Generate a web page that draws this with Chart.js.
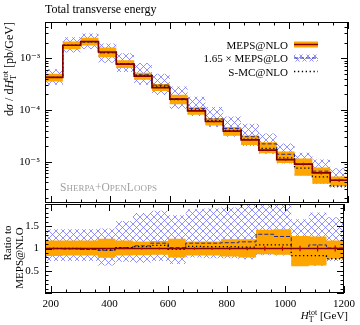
<!DOCTYPE html>
<html>
<head>
<meta charset="utf-8">
<script src="https://cdn.jsdelivr.net/npm/chart.js@4.4.0/dist/chart.umd.min.js"></script>
<style>
  body { margin: 0; background: #fff; }
  #wrap { position: relative; width: 360px; height: 325px; }
  #wrap canvas { position: absolute; left: 0; top: 0; }
</style>
</head>
<body>
<div id="wrap">
  <canvas id="mainChart" width="360" height="325"></canvas>
  <canvas id="ratioChart" width="360" height="325"></canvas>
</div>
<script>
// bin edges of H_T^tot [GeV]
const binEdges = [180, 240, 300, 360, 420, 480, 540, 600, 660, 720, 780, 840, 900, 960, 1020, 1080, 1140, 1200];
// MEPS@NLO central values [pb/GeV]
const nloValues = [4.26e-4, 1.78e-3, 2.1e-3, 1.32e-3, 7.7e-4, 4.5e-4, 2.7e-4, 1.62e-4, 9.6e-5, 6.0e-5, 3.9e-5, 2.65e-5, 1.68e-5, 1.1e-5, 9.0e-6, 6.1e-6, 4.4e-6];
// MEPS@NLO uncertainty band, as ratio to central
const nloBandUp = [1.18, 1.18, 1.18, 1.22, 1.18, 1.16, 1.17, 1.22, 1.16, 1.16, 1.21, 1.21, 1.42, 1.43, 1.28, 1.27, 1.18];
const nloBandDown = [0.83, 0.84, 0.84, 0.79, 0.84, 0.85, 0.86, 0.80, 0.84, 0.84, 0.82, 0.80, 0.87, 0.86, 0.60, 0.62, 0.77];
// MEPS@NLO stat errors (relative)
const nloStat = [0.02, 0.01, 0.01, 0.01, 0.015, 0.02, 0.02, 0.025, 0.03, 0.03, 0.035, 0.04, 0.05, 0.05, 0.06, 0.07, 0.07];
// 1.65 x MEPS@LO, ratio to MEPS@NLO
const loRatio = [1.0, 0.99, 0.98, 0.96, 1.02, 1.06, 1.12, 1.02, 1.12, 1.12, 1.13, 1.15, 1.32, 1.27, 1.0, 1.08, 1.01];
const loBandUp = [1.43, 1.43, 1.43, 1.45, 1.62, 1.80, 1.85, 1.75, 1.88, 1.90, 1.92, 2.05, 2.10, 2.05, 1.66, 1.81, 1.70];
const loBandDown = [0.72, 0.72, 0.72, 0.62, 0.70, 0.68, 0.72, 0.65, 0.80, 0.78, 0.78, 0.76, 0.85, 0.84, 0.61, 0.61, 0.72];
// S-MC@NLO, ratio to MEPS@NLO
const smcRatio = [1.0, 1.0, 0.99, 0.97, 1.02, 1.04, 1.07, 0.98, 1.05, 1.04, 1.04, 1.03, 1.08, 1.08, 0.84, 0.84, 0.77];

// tick labels
const xTickValues = [200, 400, 600, 800, 1000, 1200];
const mainYTicks = [1e-5, 1e-4, 1e-3];
const ratioYTicks = [0.5, 1, 1.5];

const FONT = '"Liberation Serif", "DejaVu Serif", serif';
const ORANGE = '#ffa500';
const DARKRED = '#800000';
const NAVY = '#262690';
Chart.defaults.font.family = FONT;
Chart.defaults.font.size = 11;
Chart.defaults.color = '#000';

function makeHatch() {
  const c = document.createElement('canvas');
  c.width = 7; c.height = 7;
  const g = c.getContext('2d');
  g.strokeStyle = 'rgba(110,110,255,0.85)';
  g.lineWidth = 0.9;
  g.beginPath();
  g.moveTo(-1, -1); g.lineTo(8, 8);
  g.moveTo(8, -1); g.lineTo(-1, 8);
  g.stroke();
  return g.createPattern(c, 'repeat');
}
const hatch = makeHatch();

// histogram steps: one point per left edge plus the closing right edge
function steps(vals) {
  const pts = vals.map((v, i) => ({ x: binEdges[i], y: v }));
  pts.push({ x: binEdges[binEdges.length - 1], y: vals[vals.length - 1] });
  return pts;
}
function errBars(center, rel) {
  const pts = [];
  center.forEach((v, i) => {
    const xc = (binEdges[i] + binEdges[i + 1]) / 2;
    pts.push({ x: xc, y: v * (1 - rel[i]) }, { x: xc, y: v * (1 + rel[i]) }, { x: xc, y: null });
  });
  return pts;
}
const mul = (a, b) => a.map((v, i) => v * b[i]);

function font(r) {
  return (r.italic ? 'italic ' : '') + (r.size || 11) + 'px ' + FONT;
}
function drawRich(ctx, runs, x, y, align) {
  const pos = [];
  let cx = 0, prevStart = 0;
  runs.forEach(r => {
    ctx.font = font(r);
    const w = ctx.measureText(r.t).width;
    if (r.stack) { pos.push(prevStart); cx = Math.max(cx, prevStart + w); }
    else { pos.push(cx); prevStart = cx; cx += w; }
  });
  const x0 = align === 'right' ? x - cx : align === 'center' ? x - cx / 2 : x;
  ctx.textAlign = 'left';
  runs.forEach((r, i) => {
    ctx.font = font(r);
    ctx.fillText(r.t, x0 + pos[i], y + (r.dy || 0));
  });
}
const HT = [
  { t: 'H', italic: true },
  { t: 'tot', size: 8, dy: -4.5 },
  { t: 'T', size: 8, dy: 2.5, stack: true }
];

function frameAndXTicks(ctx, a, x) {
  ctx.strokeStyle = '#000';
  ctx.lineWidth = 1;
  ctx.strokeRect(a.left + 0.5, a.top + 0.5, a.right - a.left - 1, a.bottom - a.top - 1);
  ctx.beginPath();
  for (let v = 200; v <= 1200; v += 50) {
    const px = Math.round(x.getPixelForValue(v)) + 0.5;
    const len = v % 200 === 0 ? 7 : 3.5;
    ctx.moveTo(px, a.top); ctx.lineTo(px, a.top + len);
    ctx.moveTo(px, a.bottom); ctx.lineTo(px, a.bottom - len);
  }
  ctx.stroke();
}
function yTick(ctx, a, py, len) {
  py = Math.round(py) + 0.5;
  ctx.moveTo(a.left, py); ctx.lineTo(a.left + len, py);
  ctx.moveTo(a.right, py); ctx.lineTo(a.right - len, py);
}

const mainDecor = {
  id: 'mainDecor',
  afterDraw(chart) {
    const { ctx, chartArea: a, scales: { x, y } } = chart;
    ctx.save();
    frameAndXTicks(ctx, a, x);
    ctx.beginPath();
    for (let e = -6; e <= -3; e++) {
      for (let k = 1; k <= 9; k++) {
        const v = k * Math.pow(10, e);
        if (v < y.min || v > y.max) continue;
        yTick(ctx, a, y.getPixelForValue(v), k === 1 ? 7 : 3.5);
      }
    }
    ctx.stroke();

    ctx.fillStyle = '#000';
    ctx.textBaseline = 'alphabetic';
    ctx.font = '12px ' + FONT;
    ctx.textAlign = 'left';
    ctx.fillText('Total transverse energy', 45, 13);

    // legend
    ctx.font = '11px ' + FONT;
    const tx = 288, s0 = 294, s1 = 318;
    const rows = [48.5, 62, 75.5];
    ctx.textAlign = 'right';
    ctx.fillText('MEPS@NLO', tx, rows[0]);
    ctx.fillText('1.65 × MEPS@LO', tx, rows[1]);
    ctx.fillText('S-MC@NLO', tx, rows[2]);
    ctx.fillStyle = ORANGE;
    ctx.fillRect(s0, rows[0] - 7, s1 - s0, 6);
    ctx.strokeStyle = DARKRED; ctx.lineWidth = 1.5;
    ctx.beginPath(); ctx.moveTo(s0, rows[0] - 4); ctx.lineTo(s1, rows[0] - 4); ctx.stroke();
    ctx.fillStyle = hatch;
    ctx.fillRect(s0, rows[1] - 7.5, s1 - s0, 7);
    ctx.strokeStyle = NAVY; ctx.lineWidth = 1; ctx.setLineDash([4, 2]);
    ctx.beginPath(); ctx.moveTo(s0, rows[1] - 4); ctx.lineTo(s1, rows[1] - 4); ctx.stroke();
    ctx.strokeStyle = '#000'; ctx.lineWidth = 1.3; ctx.setLineDash([1.3, 2.6]);
    ctx.beginPath(); ctx.moveTo(s0, rows[2] - 4); ctx.lineTo(s1, rows[2] - 4); ctx.stroke();
    ctx.setLineDash([]);

    // generator label in small caps
    ctx.fillStyle = '#a0a0a0';
    drawRich(ctx, [
      { t: 'S', size: 11.5 }, { t: 'HERPA', size: 9 }, { t: '+', size: 11.5 }, { t: 'O', size: 11.5 },
      { t: 'PEN', size: 9 }, { t: 'L', size: 11.5 }, { t: 'OOPS', size: 9 }
    ], 60, 191, 'left');

    // y axis title
    ctx.fillStyle = '#000';
    ctx.translate(13, 22);
    ctx.rotate(-Math.PI / 2);
    drawRich(ctx, [{ t: 'd', size: 12 }, { t: 'σ', italic: true, size: 12 }, { t: ' / d', size: 12 }]
      .concat([{ t: 'H', italic: true, size: 12 }, { t: 'tot', size: 8.5, dy: -5 }, { t: 'T', size: 8.5, dy: 2.5, stack: true }],
        [{ t: ' [pb/GeV]', size: 12 }]), 0, 0, 'right');
    ctx.restore();
  }
};

const ratioDecor = {
  id: 'ratioDecor',
  afterDraw(chart) {
    const { ctx, chartArea: a, scales: { x, y } } = chart;
    ctx.save();
    frameAndXTicks(ctx, a, x);
    ctx.beginPath();
    for (let i = 0; i <= 20; i++) {
      const v = i / 10;
      yTick(ctx, a, y.getPixelForValue(v), i % 5 === 0 ? 7 : 3.5);
    }
    ctx.stroke();

    ctx.fillStyle = '#000';
    ctx.textBaseline = 'alphabetic';
    drawRich(ctx, HT.concat([{ t: ' [GeV]' }]), 348, 319, 'right');

    ctx.rotate(-Math.PI / 2);
    ctx.font = '11px ' + FONT;
    ctx.textAlign = 'center';
    ctx.fillText('Ratio to', -243, 11);
    ctx.fillText('MEPS@NLO', -258, 23);
    ctx.restore();
  }
};

const line = (data, color, width, dash, order) => ({
  data, borderColor: color, borderWidth: width, borderDash: dash || [],
  stepped: 'before', pointRadius: 0, fill: false, order
});
const band = (data, fillColor, order) => ({
  data, borderWidth: 0, pointRadius: 0, stepped: 'before', fill: '-1',
  backgroundColor: fillColor, order
});
const bars = (data, color, order) => ({
  data, borderColor: color, borderWidth: 1.2, pointRadius: 0, fill: false, order
});

const yMin = 1.6e-6;
const supMap = { '-': '⁻', '0': '⁰', '1': '¹', '2': '²', '3': '³', '4': '⁴', '5': '⁵', '6': '⁶' };

new Chart(document.getElementById('mainChart'), {
  type: 'line',
  data: {
    datasets: [
      line(steps(mul(nloValues, loBandUp)), 'transparent', 0, null, 7),
      band(steps(mul(nloValues, loBandDown)), hatch, 7),
      line(steps(mul(nloValues, nloBandUp)), 'transparent', 0, null, 6),
      band(steps(mul(nloValues, nloBandDown)), ORANGE, 6),
      line(steps(mul(nloValues, loRatio)), NAVY, 1, [4, 2], 5),
      line(steps(mul(nloValues, smcRatio)), '#000', 1.3, [1.3, 2.6], 4),
      line([{ x: binEdges[0], y: yMin }].concat(steps(nloValues)), DARKRED, 1.6, null, 3),
      bars(errBars(nloValues, nloStat), '#c00000', 2)
    ]
  },
  options: {
    responsive: false,
    animation: false,
    layout: { padding: { left: 0, right: 12, top: 22, bottom: 122 } },
    plugins: { legend: { display: false }, tooltip: { enabled: false } },
    scales: {
      x: { type: 'linear', min: 180, max: 1200, display: false, offset: false },
      y: {
        type: 'logarithmic', min: yMin, max: 5e-3,
        afterFit: s => { s.width = 45; },
        afterBuildTicks: s => { s.ticks = mainYTicks.map(v => ({ value: v })); },
        grid: { display: false, drawTicks: false },
        border: { display: false },
        ticks: {
          padding: 5,
          callback: v => '10' + String(Math.round(Math.log10(v))).split('').map(c => supMap[c]).join('')
        }
      }
    }
  },
  plugins: [mainDecor]
});

const ones = nloValues.map(() => 1);
new Chart(document.getElementById('ratioChart'), {
  type: 'line',
  data: {
    datasets: [
      line(steps(loBandUp), 'transparent', 0, null, 7),
      band(steps(loBandDown), hatch, 7),
      line(steps(nloBandUp), 'transparent', 0, null, 6),
      band(steps(nloBandDown), ORANGE, 6),
      line(steps(loRatio), NAVY, 1, [4, 2], 5),
      line(steps(smcRatio), '#000', 1.3, [1.3, 2.6], 4),
      line(steps(ones), DARKRED, 1.6, null, 3),
      bars(errBars(ones, nloStat), '#c00000', 2)
    ]
  },
  options: {
    responsive: false,
    animation: false,
    layout: { padding: { left: 0, right: 12, top: 204, bottom: 0 } },
    plugins: { legend: { display: false }, tooltip: { enabled: false } },
    scales: {
      x: {
        type: 'linear', min: 180, max: 1200, offset: false,
        afterFit: s => { s.height = 32; },
        afterBuildTicks: s => { s.ticks = xTickValues.map(v => ({ value: v })); },
        grid: { display: false, drawTicks: false },
        border: { display: false },
        ticks: { padding: 5, maxRotation: 0, autoSkip: false, callback: v => String(v) }
      },
      y: {
        type: 'linear', min: 0, max: 2,
        afterFit: s => { s.width = 45; },
        afterBuildTicks: s => { s.ticks = ratioYTicks.map(v => ({ value: v })); },
        grid: { display: false, drawTicks: false },
        border: { display: false },
        ticks: { padding: 6, callback: v => String(v) }
      }
    }
  },
  plugins: [ratioDecor]
});
</script>
</body>
</html>
